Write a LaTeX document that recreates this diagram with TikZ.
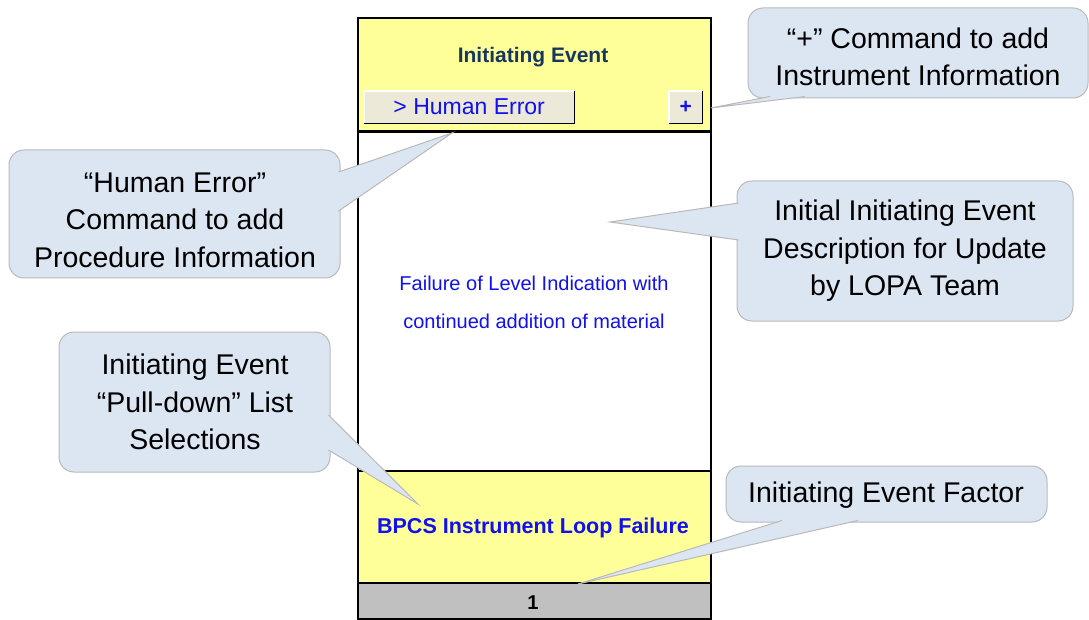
\documentclass[tikz,border=0pt]{standalone}
\usepackage{fontspec}
\setmainfont{Liberation Sans}
\usetikzlibrary{positioning,calc}

\definecolor{cellyellow}{RGB}{255,255,153}
\definecolor{cellgray}{RGB}{192,192,192}
\definecolor{btnface}{RGB}{236,233,216}
\definecolor{headblue}{RGB}{23,55,94}
\definecolor{textblue}{RGB}{16,16,240}
\definecolor{tipfill}{RGB}{220,230,242}
\definecolor{tipline}{RGB}{185,185,185}

\begin{document}
\begin{tikzpicture}[
  x=1pt, y=-1pt,
  every node/.style={inner sep=0pt},
  cell/.style={draw=black, line width=1.8pt, minimum width=353pt, anchor=north west},
  btn/.style={fill=btnface, anchor=north west, minimum height=32pt},
  balloon/.style={fill=tipfill, draw=tipline, line width=1pt},
  balloonbox/.style={balloon, rounded corners=15pt},
  notetext/.style={font=\fontsize{28.5}{37.5}\selectfont, align=center},
]
\useasboundingbox (0,0) rectangle (1089,620);

% Worksheet column
\node[cell, fill=white, minimum height=340pt] (body) at (357,130) {};
\node[cell, fill=cellyellow, minimum height=113pt] (head) at (357,17) {};
\node[cell, fill=cellyellow, minimum height=112pt] (foot) at (357,470) {};
\node[cell, fill=cellgray, minimum height=36pt] (factor) at (357,582) {};
\draw[line width=3pt] (head.south west) -- (head.south east);

\node[font=\fontsize{21}{25}\selectfont\bfseries, text=headblue] (title) at (533,57) {Initiating Event};

% Buttons
\node[btn, minimum width=210pt, font=\fontsize{23}{27}\selectfont, text=textblue] (hebtn) at (364,91) {> Human Error};
\node[btn, minimum width=33pt, font=\fontsize{21}{24}\selectfont\bfseries, text=textblue] (plusbtn) at (669,91) {+};
\foreach \b in {hebtn, plusbtn} {
  \draw[white, line width=1.5pt] (\b.south west) -- (\b.north west) -- (\b.north east);
  \draw[black, line width=1.5pt] (\b.south west) -- (\b.south east) -- (\b.north east);
}

% Cell texts
\node[font=\fontsize{20}{38}\selectfont, text=textblue, align=center] (desc) at (534,302)
  {Failure of Level Indication with\\continued addition of material};
\node[font=\fontsize{21.5}{26}\selectfont\bfseries, text=textblue] (sel) at (533,528) {BPCS Instrument Loop Failure};
\node[font=\fontsize{20}{24}\selectfont\bfseries] (val) at (533,603) {1};

% Callouts
\coordinate (plustip) at (711,108);
\draw[balloonbox] (748,8) rectangle (1088,98);
\filldraw[balloon] (770,96.5) -- (plustip) -- (805,96.5);
\node[notetext] (plusnote) at (918,57) {“+” Command to add\\Instrument Information};

\coordinate (hetip) at (452,133);
\draw[balloonbox] (9,150) rectangle (340,278);
\filldraw[balloon] (338.5,172) -- (hetip) -- (338.5,211);
\node[notetext] (henote) at (175,220) {“Human Error”\\Command to add\\Procedure Information};

\coordinate (desctip) at (610,222);
\draw[balloonbox] (737,181) rectangle (1073,321);
\filldraw[balloon] (738.5,203) -- (desctip) -- (738.5,240);
\node[notetext] (descnote) at (905,251) {Initial Initiating Event\\Description for Update\\by LOPA Team};

\coordinate (seltip) at (418,504);
\draw[balloonbox] (59,332) rectangle (330,472);
\filldraw[balloon] (328.5,415) -- (seltip) -- (328.5,450);
\node[notetext] (selnote) at (195,402) {Initiating Event\\“Pull-down” List\\Selections};

\coordinate (valtip) at (578,584);
\draw[balloonbox] (726,466) rectangle (1047,522);
\filldraw[balloon] (782,520.5) -- (valtip) -- (858,520.5);
\node[notetext] (valnote) at (886,495) {Initiating Event Factor};
\end{tikzpicture}
\end{document}
